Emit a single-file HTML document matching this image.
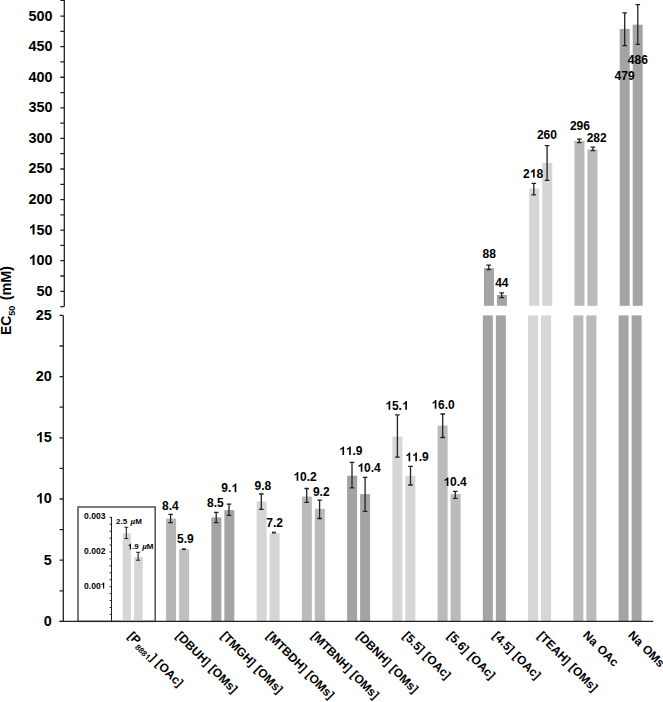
<!DOCTYPE html>
<html><head><meta charset="utf-8"><style>
html,body{margin:0;padding:0;background:#fff;width:663px;height:702px;overflow:hidden}
svg{display:block;font-family:"Liberation Sans",sans-serif;fill:#000}
text{fill:#000;font-kerning:none}
.h1{fill:transparent}
</style></head><body>
<svg width="663" height="702" viewBox="0 0 663 702">
<rect width="100%" height="100%" fill="#fff"/>
<rect x="166.10" y="518.58" width="10.0" height="102.82" fill="#b5b5b5"/>
<rect x="179.10" y="549.18" width="10.0" height="72.22" fill="#bfbfbf"/>
<rect x="211.35" y="517.36" width="10.0" height="104.04" fill="#a4a4a4"/>
<rect x="224.35" y="510.02" width="10.0" height="111.38" fill="#a4a4a4"/>
<rect x="256.60" y="501.45" width="10.0" height="119.95" fill="#d6d6d6"/>
<rect x="269.60" y="533.27" width="10.0" height="88.13" fill="#d6d6d6"/>
<rect x="301.85" y="496.55" width="10.0" height="124.85" fill="#bababa"/>
<rect x="314.85" y="508.79" width="10.0" height="112.61" fill="#bababa"/>
<rect x="347.10" y="475.74" width="10.0" height="145.66" fill="#a4a4a4"/>
<rect x="360.10" y="494.10" width="10.0" height="127.30" fill="#a4a4a4"/>
<rect x="392.35" y="436.58" width="10.0" height="184.82" fill="#d6d6d6"/>
<rect x="405.35" y="475.74" width="10.0" height="145.66" fill="#d6d6d6"/>
<rect x="437.60" y="425.56" width="10.0" height="195.84" fill="#bababa"/>
<rect x="450.60" y="494.10" width="10.0" height="127.30" fill="#bababa"/>
<rect x="483.95" y="268.06" width="10.0" height="37.74" fill="#a4a4a4"/>
<rect x="482.85" y="315.40" width="10.0" height="306.00" fill="#a4a4a4"/>
<rect x="496.95" y="294.97" width="10.0" height="10.83" fill="#a4a4a4"/>
<rect x="495.85" y="315.40" width="10.0" height="306.00" fill="#a4a4a4"/>
<rect x="529.20" y="188.56" width="10.0" height="117.24" fill="#d6d6d6"/>
<rect x="528.10" y="315.40" width="10.0" height="306.00" fill="#d6d6d6"/>
<rect x="542.20" y="162.87" width="10.0" height="142.93" fill="#d6d6d6"/>
<rect x="541.10" y="315.40" width="10.0" height="306.00" fill="#d6d6d6"/>
<rect x="574.45" y="140.86" width="10.0" height="164.94" fill="#bababa"/>
<rect x="573.35" y="315.40" width="10.0" height="306.00" fill="#bababa"/>
<rect x="587.45" y="149.42" width="10.0" height="156.38" fill="#bababa"/>
<rect x="586.35" y="315.40" width="10.0" height="306.00" fill="#bababa"/>
<rect x="619.70" y="28.94" width="10.0" height="276.86" fill="#a4a4a4"/>
<rect x="618.60" y="315.40" width="10.0" height="306.00" fill="#a4a4a4"/>
<rect x="632.70" y="24.66" width="10.0" height="281.14" fill="#a4a4a4"/>
<rect x="631.60" y="315.40" width="10.0" height="306.00" fill="#a4a4a4"/>
<path d="M170.60 514.40V522.70M168.30 514.40H172.90M168.30 522.70H172.90M216.20 512.30V522.60M213.90 512.30H218.50M213.90 522.60H218.50M229.00 504.10V515.40M226.70 504.10H231.30M226.70 515.40H231.30M261.30 494.00V509.40M259.00 494.00H263.60M259.00 509.40H263.60M306.70 488.50V502.40M304.40 488.50H309.00M304.40 502.40H309.00M319.60 500.10V518.50M317.30 500.10H321.90M317.30 518.50H321.90M352.00 462.40V487.80M349.70 462.40H354.30M349.70 487.80H354.30M365.10 477.30V511.30M362.80 477.30H367.40M362.80 511.30H367.40M397.40 414.80V457.20M395.10 414.80H399.70M395.10 457.20H399.70M410.50 466.30V485.00M408.20 466.30H412.80M408.20 485.00H412.80M442.70 414.00V437.50M440.40 414.00H445.00M440.40 437.50H445.00M455.30 491.30V498.30M453.00 491.30H457.60M453.00 498.30H457.60M488.70 265.20V269.60M486.40 265.20H491.00M486.40 269.60H491.00M501.70 292.80V297.60M499.40 292.80H504.00M499.40 297.60H504.00M533.80 183.30V194.80M531.50 183.30H536.10M531.50 194.80H536.10M547.10 145.60V180.30M544.80 145.60H549.40M544.80 180.30H549.40M579.30 139.20V142.60M577.00 139.20H581.60M577.00 142.60H581.60M592.90 147.10V150.70M590.60 147.10H595.20M590.60 150.70H595.20M624.70 12.80V45.60M622.40 12.80H627.00M622.40 45.60H627.00M637.80 4.60V44.40M635.50 4.60H640.10M635.50 44.40H640.10" stroke="#222" stroke-width="1.3" fill="none"/>
<rect x="182.0" y="548.3" width="3.8" height="1.7" fill="#222"/>
<rect x="272.0" y="531.7" width="3.9" height="1.8" fill="#222"/>
<rect x="78" y="507" width="77.2" height="114.4" fill="none" stroke="#444" stroke-width="1.4"/>
<rect x="122.7" y="533.3" width="8.2" height="88.10" fill="#d6d6d6"/>
<rect x="134.1" y="557" width="8.6" height="64.40" fill="#d6d6d6"/>
<path d="M111.5 517V621.4M109.6 614.46H111.5M109.6 607.52H111.5M109.6 600.58H111.5M109.6 593.64H111.5M109.6 586.70H111.5M109.6 579.76H111.5M109.6 572.82H111.5M109.6 565.88H111.5M109.6 558.94H111.5M109.6 552.00H111.5M109.6 545.06H111.5M109.6 538.12H111.5M109.6 531.18H111.5M109.6 524.24H111.5M109.6 517.30H111.5" stroke="#222" stroke-width="1" fill="none"/>
<path d="M126.3 527.3V538.5M124.3 527.3H128.3M124.3 538.5H128.3M138.1 552.3V560.3M136.1 552.3H140.1M136.1 560.3H140.1" stroke="#222" stroke-width="1.1" fill="none"/>
<text x="105.4" y="519.2" text-anchor="end" font-size="8.5" font-weight="bold">0.003</text>
<text x="105.4" y="553.8" text-anchor="end" font-size="8.5" font-weight="bold">0.002</text>
<text x="105.4" y="588.6" text-anchor="end" font-size="8.5" font-weight="bold">0.00<tspan class="h1">1</tspan></text>
<text x="116" y="524.4" font-size="8" font-weight="bold">2.5 <tspan dx="1.2" font-style="italic">µ</tspan>M</text>
<text x="127.6" y="549.4" font-size="8" font-weight="bold"><tspan class="h1">1</tspan>.9 <tspan dx="1.2" font-style="italic">µ</tspan>M</text>
<path d="M64.3 0V306.59M60.3 306.59H64.3M60.3 291.30H64.3M60.3 276.01H64.3M60.3 260.72H64.3M60.3 245.44H64.3M60.3 230.15H64.3M60.3 214.86H64.3M60.3 199.57H64.3M60.3 184.28H64.3M60.3 168.99H64.3M60.3 153.70H64.3M60.3 138.41H64.3M60.3 123.12H64.3M60.3 107.83H64.3M60.3 92.54H64.3M60.3 77.26H64.3M60.3 61.97H64.3M60.3 46.68H64.3M60.3 31.39H64.3M60.3 16.10H64.3M60.3 0.45H64.3M63.3 315.40V621.4M59.6 621.40H63.3M59.6 590.80H63.3M59.6 560.20H63.3M59.6 529.60H63.3M59.6 499.00H63.3M59.6 468.40H63.3M59.6 437.80H63.3M59.6 407.20H63.3M59.6 376.60H63.3M59.6 346.00H63.3M59.6 315.40H63.3" stroke="#222" stroke-width="1.3" fill="none"/>
<path d="M59.4 621.4H653.2" stroke="#222" stroke-width="1.3" fill="none"/>
<text x="52.6" y="295.70" text-anchor="end" font-size="14.4" font-weight="bold">50</text>
<text x="52.6" y="265.12" text-anchor="end" font-size="14.4" font-weight="bold"><tspan class="h1">1</tspan>00</text>
<text x="52.6" y="234.55" text-anchor="end" font-size="14.4" font-weight="bold"><tspan class="h1">1</tspan>50</text>
<text x="52.6" y="203.97" text-anchor="end" font-size="14.4" font-weight="bold">200</text>
<text x="52.6" y="173.39" text-anchor="end" font-size="14.4" font-weight="bold">250</text>
<text x="52.6" y="142.81" text-anchor="end" font-size="14.4" font-weight="bold">300</text>
<text x="52.6" y="112.23" text-anchor="end" font-size="14.4" font-weight="bold">350</text>
<text x="52.6" y="81.66" text-anchor="end" font-size="14.4" font-weight="bold">400</text>
<text x="52.6" y="51.08" text-anchor="end" font-size="14.4" font-weight="bold">450</text>
<text x="52.6" y="20.50" text-anchor="end" font-size="14.4" font-weight="bold">500</text>
<text x="51.8" y="625.80" text-anchor="end" font-size="14.4" font-weight="bold">0</text>
<text x="51.8" y="564.60" text-anchor="end" font-size="14.4" font-weight="bold">5</text>
<text x="51.8" y="503.40" text-anchor="end" font-size="14.4" font-weight="bold"><tspan class="h1">1</tspan>0</text>
<text x="51.8" y="442.20" text-anchor="end" font-size="14.4" font-weight="bold"><tspan class="h1">1</tspan>5</text>
<text x="51.8" y="381.00" text-anchor="end" font-size="14.4" font-weight="bold">20</text>
<text x="51.8" y="319.80" text-anchor="end" font-size="14.4" font-weight="bold">25</text>
<text transform="translate(11.0 335.1) rotate(-90)" font-size="14" font-weight="bold">EC<tspan font-size="9" dy="3.5">50</tspan><tspan dx="1.4" dy="-3.5" font-size="14.4"> (mM)</tspan></text>
<text x="170.35" y="509.50" text-anchor="middle" font-size="12" font-weight="bold">8.4</text>
<text x="185.30" y="542.60" text-anchor="middle" font-size="12" font-weight="bold">5.9</text>
<text x="215.45" y="506.60" text-anchor="middle" font-size="12" font-weight="bold">8.5</text>
<text x="229.65" y="492.20" text-anchor="middle" font-size="12" font-weight="bold">9.<tspan class="h1">1</tspan></text>
<text x="262.90" y="490.10" text-anchor="middle" font-size="12" font-weight="bold">9.8</text>
<text x="274.65" y="526.60" text-anchor="middle" font-size="12" font-weight="bold">7.2</text>
<text x="305.00" y="480.70" text-anchor="middle" font-size="12" font-weight="bold"><tspan class="h1">1</tspan>0.2</text>
<text x="321.25" y="495.90" text-anchor="middle" font-size="12" font-weight="bold">9.2</text>
<text x="350.80" y="455.00" text-anchor="middle" font-size="12" font-weight="bold"><tspan class="h1">1</tspan><tspan class="h1">1</tspan>.9</text>
<text x="369.10" y="471.80" text-anchor="middle" font-size="12" font-weight="bold"><tspan class="h1">1</tspan>0.4</text>
<text x="396.95" y="409.70" text-anchor="middle" font-size="12" font-weight="bold"><tspan class="h1">1</tspan>5.<tspan class="h1">1</tspan></text>
<text x="416.95" y="461.20" text-anchor="middle" font-size="12" font-weight="bold"><tspan class="h1">1</tspan><tspan class="h1">1</tspan>.9</text>
<text x="443.10" y="408.70" text-anchor="middle" font-size="12" font-weight="bold"><tspan class="h1">1</tspan>6.0</text>
<text x="455.10" y="486.00" text-anchor="middle" font-size="12" font-weight="bold"><tspan class="h1">1</tspan>0.4</text>
<text x="489.25" y="257.60" text-anchor="middle" font-size="12" font-weight="bold">88</text>
<text x="501.85" y="286.70" text-anchor="middle" font-size="12" font-weight="bold">44</text>
<text x="533.05" y="177.60" text-anchor="middle" font-size="12" font-weight="bold">2<tspan class="h1">1</tspan>8</text>
<text x="546.95" y="138.50" text-anchor="middle" font-size="12" font-weight="bold">260</text>
<text x="579.90" y="129.80" text-anchor="middle" font-size="12" font-weight="bold">296</text>
<text x="596.70" y="141.50" text-anchor="middle" font-size="12" font-weight="bold">282</text>
<text x="624.55" y="79.90" text-anchor="middle" font-size="12" font-weight="bold">479</text>
<text x="637.80" y="63.60" text-anchor="middle" font-size="12" font-weight="bold">486</text>
<text transform="translate(133.40 630.70) rotate(45)" font-size="12" font-weight="bold" word-spacing="1"><tspan x="0" y="8.6">[P<tspan font-size="8" dx="0.8" dy="2.6">888<tspan class="h1">1</tspan></tspan><tspan dx="0.4" dy="-2.6">] [OAc]</tspan></tspan></text>
<text transform="translate(181.40 630.40) rotate(45)" font-size="12" font-weight="bold" word-spacing="1"><tspan x="0" y="8.6">[DBUH] [OMs]</tspan></text>
<text transform="translate(226.30 630.40) rotate(45)" font-size="12" font-weight="bold" word-spacing="1"><tspan x="0" y="8.6">[TMGH] [OMs]</tspan></text>
<text transform="translate(271.90 630.40) rotate(45)" font-size="12" font-weight="bold" word-spacing="1"><tspan x="0" y="8.6">[MTBDH] [OMs]</tspan></text>
<text transform="translate(316.80 630.40) rotate(45)" font-size="12" font-weight="bold" word-spacing="1"><tspan x="0" y="8.6">[MTBNH] [OMs]</tspan></text>
<text transform="translate(362.20 630.40) rotate(45)" font-size="12" font-weight="bold" word-spacing="1"><tspan x="0" y="8.6">[DBNH] [OMs]</tspan></text>
<text transform="translate(408.40 630.40) rotate(45)" font-size="12" font-weight="bold" word-spacing="1"><tspan x="0" y="8.6">[5.5] [OAc]</tspan></text>
<text transform="translate(452.80 630.40) rotate(45)" font-size="12" font-weight="bold" word-spacing="1"><tspan x="0" y="8.6">[5.6] [OAc]</tspan></text>
<text transform="translate(498.20 630.40) rotate(45)" font-size="12" font-weight="bold" word-spacing="1"><tspan x="0" y="8.6">[4.5] [OAc]</tspan></text>
<text transform="translate(543.00 630.40) rotate(45)" font-size="12" font-weight="bold" word-spacing="1"><tspan x="0" y="8.6">[TEAH] [OMs]</tspan></text>
<text transform="translate(588.40 629.70) rotate(45)" font-size="12" font-weight="bold" word-spacing="1"><tspan x="0" y="8.6">Na OAc</tspan></text>
<text transform="translate(633.60 629.70) rotate(45)" font-size="12" font-weight="bold" word-spacing="1"><tspan x="0" y="8.6">Na OMs</tspan></text>
<path transform="translate(100.67 588.60) scale(0.00415 -0.00415)" d="M850 0L570 0L570 1050Q420 910 200 840L200 1090Q330 1135 470 1250Q600 1360 650 1466L850 1466Z"/>
<path transform="translate(127.60 549.40) scale(0.00391 -0.00391)" d="M850 0L570 0L570 1050Q420 910 200 840L200 1090Q330 1135 470 1250Q600 1360 650 1466L850 1466Z"/>
<path transform="translate(28.57 265.12) scale(0.00703 -0.00703)" d="M850 0L570 0L570 1050Q420 910 200 840L200 1090Q330 1135 470 1250Q600 1360 650 1466L850 1466Z"/>
<path transform="translate(28.57 234.55) scale(0.00703 -0.00703)" d="M850 0L570 0L570 1050Q420 910 200 840L200 1090Q330 1135 470 1250Q600 1360 650 1466L850 1466Z"/>
<path transform="translate(35.77 503.40) scale(0.00703 -0.00703)" d="M850 0L570 0L570 1050Q420 910 200 840L200 1090Q330 1135 470 1250Q600 1360 650 1466L850 1466Z"/>
<path transform="translate(35.77 442.20) scale(0.00703 -0.00703)" d="M850 0L570 0L570 1050Q420 910 200 840L200 1090Q330 1135 470 1250Q600 1360 650 1466L850 1466Z"/>
<path transform="translate(231.31 492.20) scale(0.00586 -0.00586)" d="M850 0L570 0L570 1050Q420 910 200 840L200 1090Q330 1135 470 1250Q600 1360 650 1466L850 1466Z"/>
<path transform="translate(293.31 480.70) scale(0.00586 -0.00586)" d="M850 0L570 0L570 1050Q420 910 200 840L200 1090Q330 1135 470 1250Q600 1360 650 1466L850 1466Z"/>
<path transform="translate(339.10 455.00) scale(0.00586 -0.00586)" d="M850 0L570 0L570 1050Q420 910 200 840L200 1090Q330 1135 470 1250Q600 1360 650 1466L850 1466Z"/>
<path transform="translate(345.79 455.00) scale(0.00586 -0.00586)" d="M850 0L570 0L570 1050Q420 910 200 840L200 1090Q330 1135 470 1250Q600 1360 650 1466L850 1466Z"/>
<path transform="translate(357.41 471.80) scale(0.00586 -0.00586)" d="M850 0L570 0L570 1050Q420 910 200 840L200 1090Q330 1135 470 1250Q600 1360 650 1466L850 1466Z"/>
<path transform="translate(385.25 409.70) scale(0.00586 -0.00586)" d="M850 0L570 0L570 1050Q420 910 200 840L200 1090Q330 1135 470 1250Q600 1360 650 1466L850 1466Z"/>
<path transform="translate(401.96 409.70) scale(0.00586 -0.00586)" d="M850 0L570 0L570 1050Q420 910 200 840L200 1090Q330 1135 470 1250Q600 1360 650 1466L850 1466Z"/>
<path transform="translate(405.25 461.20) scale(0.00586 -0.00586)" d="M850 0L570 0L570 1050Q420 910 200 840L200 1090Q330 1135 470 1250Q600 1360 650 1466L850 1466Z"/>
<path transform="translate(411.94 461.20) scale(0.00586 -0.00586)" d="M850 0L570 0L570 1050Q420 910 200 840L200 1090Q330 1135 470 1250Q600 1360 650 1466L850 1466Z"/>
<path transform="translate(431.41 408.70) scale(0.00586 -0.00586)" d="M850 0L570 0L570 1050Q420 910 200 840L200 1090Q330 1135 470 1250Q600 1360 650 1466L850 1466Z"/>
<path transform="translate(443.41 486.00) scale(0.00586 -0.00586)" d="M850 0L570 0L570 1050Q420 910 200 840L200 1090Q330 1135 470 1250Q600 1360 650 1466L850 1466Z"/>
<path transform="translate(529.71 177.60) scale(0.00586 -0.00586)" d="M850 0L570 0L570 1050Q420 910 200 840L200 1090Q330 1135 470 1250Q600 1360 650 1466L850 1466Z"/>
<path transform="translate(133.40 630.70) rotate(45) translate(26.16 11.20) scale(0.00391 -0.00391)" d="M850 0L570 0L570 1050Q420 910 200 840L200 1090Q330 1135 470 1250Q600 1360 650 1466L850 1466Z"/>
</svg>
</body></html>
